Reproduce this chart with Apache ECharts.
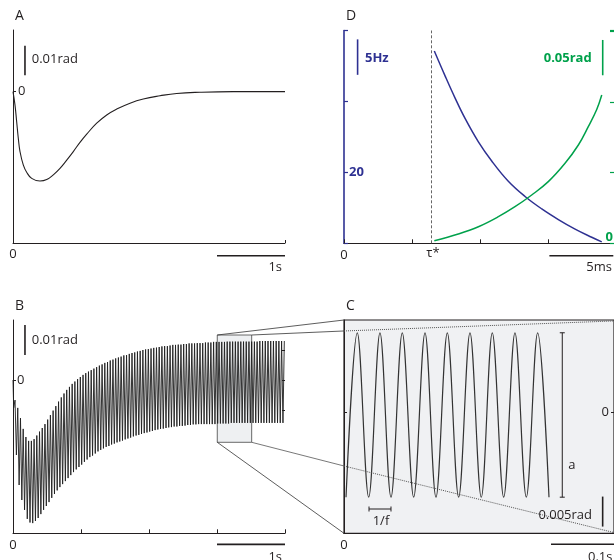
<!DOCTYPE html>
<html><head><meta charset="utf-8">
<script src="https://cdn.jsdelivr.net/npm/echarts@6/dist/echarts.min.js"></script>
<style>html,body{margin:0;padding:0;background:#fff}#c{width:614px;height:560px}</style>
</head><body><div id="c"></div>
<script>
// ---------- Panel A: mean angle (mrad) vs time (s) ----------
const aTimeS = [0, 0.029, 0.054, 0.078, 0.103, 0.151, 0.201, 0.275, 0.397, 0.496, 0.593, 0.691, 0.790, 0.887, 0.985, 1.084, 1.231, 1.378, 1.525, 1.721, 1.916, 2.162, 2.407, 2.75, 3.24, 4.0];
const aAngleMrad = [0, -4.5, -10.2, -15.8, -20.3, -24.8, -27.3, -29.4, -30.3, -29.8, -28.2, -26.0, -23.2, -20.3, -17.2, -14.4, -10.7, -7.9, -5.9, -3.9, -2.5, -1.4, -0.6, -0.2, 0, 0];

// ---------- Panel B: oscillating angle, one trough + one peak per cycle ----------
const bPeriodS = 0.04;
const bTroughMrad = [-9.3,-25.0,-35.0,-40.0,-43.3,-46.3,-47.5,-47.7,-47.0,-46.0,
 -44.7,-43.3,-42.0,-40.7,-39.3,-38.0,-36.8,-35.7,-34.7,-33.7,
 -32.7,-31.7,-30.7,-29.8,-29.0,-28.2,-27.3,-26.5,-25.7,-25.2,
 -24.5,-23.8,-23.3,-22.8,-22.3,-22.0,-21.5,-21.2,-20.8,-20.5,
 -20.2,-19.8,-19.5,-19.2,-18.8,-18.5,-18.3,-18.0,-17.7,-17.5,
 -17.2,-17.0,-16.7,-16.5,-16.3,-16.2,-16.0,-15.8,-15.7,-15.5,
 -15.5,-15.3,-15.3,-15.2,-15.0,-15.0,-14.8,-14.8,-14.7,-14.7,
 -14.7,-14.7,-14.7,-14.7,-14.7,-14.5,-14.5,-14.5,-14.5,-14.5,
 -14.3,-14.3,-14.3,-14.3,-14.3,-14.3,-14.3,-14.3,-14.3,-14.3,
 -14.3,-14.3,-14.3,-14.3,-14.3,-14.3,-14.3,-14.3,-14.3,-14.3];
const bPeakMrad = [-6.7,-9.3,-12.7,-16.3,-19.0,-20.3,-20.3,-19.7,-18.5,-17.2,
 -16.0,-14.7,-13.2,-11.7,-10.2,-8.7,-7.2,-5.8,-4.5,-3.3,
 -2.3,-1.3,-0.5,0.3,1.0,1.7,2.3,2.8,3.3,3.8,
 4.3,4.8,5.2,5.7,6.0,6.5,6.8,7.2,7.5,7.8,
 8.2,8.3,8.7,9.0,9.2,9.5,9.7,10.0,10.2,10.3,
 10.5,10.7,10.8,11.0,11.2,11.3,11.3,11.5,11.7,11.7,
 11.8,11.8,12.0,12.0,12.2,12.2,12.2,12.3,12.3,12.3,
 12.5,12.5,12.5,12.7,12.7,12.7,12.7,12.7,12.8,12.8,
 12.8,12.8,12.8,12.8,12.8,12.8,12.8,12.8,12.8,12.8,
 13.0,13.0,13.0,13.0,13.0,13.0,13.0,13.0,13.0,13.0];
const bZoomT = [3.004, 3.51];
const bZoomMrad = [15, -20.77];

// ---------- Panel C: zoomed oscillation extremes ----------
const cTimeS = [0.0032,0.0211,0.0392,0.0571,0.0746,0.0925,0.1106,0.1286,0.1460,0.1640,0.1820,0.2000,0.2179,0.2354,0.2535,0.2714,0.2894,0.3074,0.3254];
const cAngleMrad = [-14.2,13.2,-14.2,13.2,-14.2,13.2,-14.2,13.2,-14.2,13.2,-14.2,13.2,-14.2,13.2,-14.2,13.2,-14.2,13.2,-14.2];
const cEnvUpper = [[0, 13.5], [0.4286, 15.17]];
const cEnvLower = [[0, -9.0], [0.4286, -20.1]];

// ---------- Panel D: frequency (Hz) and amplitude (rad) vs time (ms) ----------
const dTauStarMs = 6.45;
const dBlueTimeMs = [6.64, 7.43, 8.16, 8.90, 9.88, 10.86, 12.08, 13.31, 14.54, 15.76, 16.99, 18.21, 18.95];
const dFreqHz = [37.1, 33.6, 30.5, 27.6, 24.3, 21.6, 18.75, 16.6, 14.85, 13.35, 12.0, 10.85, 10.2];
const dGreenTimeMs = [6.64, 8.40, 9.88, 11.35, 12.57, 13.80, 15.02, 16.25, 17.23, 17.96, 18.58, 18.95];
const dAmpRad = [0.0037, 0.0132, 0.0235, 0.0377, 0.0518, 0.0684, 0.0873, 0.1133, 0.1392, 0.1652, 0.1895, 0.2100];

// ---------- styling ----------
const FONT = '"Open Sans", "Noto Sans", "DejaVu Sans", sans-serif';
const INK = '#231f20';
const BLUE = '#2e3192';
const GREEN = '#00a14b';

const pairs = (xs, ys) => xs.map((x, i) => [x, ys[i]]);
const bData = [[0, 0]];
for (let k = 0; k < bPeakMrad.length; k++) {
  bData.push([+(bPeriodS * k + bPeriodS / 4).toFixed(4), bTroughMrad[k]]);
  bData.push([+(bPeriodS * k + 3 * bPeriodS / 4).toFixed(4), bPeakMrad[k]]);
}

const lbl = (o) => Object.assign({color: INK, fontSize: 13, fontFamily: FONT}, o);
function xAx(grid, min, max, extra) {
  return Object.assign({
    gridIndex: grid, type: 'value', min: min, max: max,
    axisLine: {onZero: false, lineStyle: {color: INK, width: 1}},
    axisTick: {inside: true, length: 4, lineStyle: {color: INK, width: 1}},
    axisLabel: lbl({customValues: [0], margin: 5}),
    splitLine: {show: false}
  }, extra || {});
}
function yAx(grid, min, max, extra) {
  return Object.assign({
    gridIndex: grid, type: 'value', min: min, max: max,
    axisLine: {onZero: false, lineStyle: {color: INK, width: 1}},
    axisTick: {inside: true, length: 3, customValues: [0], lineStyle: {color: INK, width: 1}},
    axisLabel: lbl({inside: true, customValues: [0], margin: 5}),
    splitLine: {show: false}
  }, extra || {});
}
const hiddenLine = {show: false, onZero: false};

const chart = echarts.init(document.getElementById('c'), null, {renderer: 'canvas', width: 614, height: 560});
const titleStyle = {fontSize: 14, fontWeight: 'normal', fontFamily: FONT, color: INK};
chart.setOption({
  animation: false,
  backgroundColor: '#ffffff',
  title: [
    {text: 'A', left: 15, top: 9, padding: 0, textStyle: titleStyle},
    {text: 'D', left: 346, top: 9, padding: 0, textStyle: titleStyle},
    {text: 'B', left: 15, top: 299, padding: 0, textStyle: titleStyle},
    {text: 'C', left: 346, top: 299, padding: 0, textStyle: titleStyle}
  ],
  grid: [
    {left: 13, top: 30, width: 272, height: 213, outerBoundsMode: 'none'},
    {left: 344, top: 30.5, width: 270, height: 212.8, outerBoundsMode: 'none'},
    {left: 13, top: 320, width: 272, height: 213.3, outerBoundsMode: 'none'},
    {left: 344, top: 320, width: 270, height: 213.3, outerBoundsMode: 'none', show: true,
     backgroundColor: '#f0f1f3', borderColor: INK, borderWidth: 1.2}
  ],
  xAxis: [
    xAx(0, 0, 4, {axisTick: {inside: true, length: 3, customValues: [4], lineStyle: {color: INK}}}),
    xAx(1, 0, 19.85, {interval: 5}),
    xAx(2, 0, 4, {interval: 1}),
    xAx(3, 0, 0.4286, {axisTick: {show: false}})
  ],
  yAxis: [
    yAx(0, -51.3, 20.9),
    yAx(1, 10, 40, {interval: 10, position: 'left',
      axisLine: {onZero: false, lineStyle: {color: BLUE, width: 1.6}},
      axisTick: {inside: true, length: 4, lineStyle: {color: BLUE, width: 1.2}},
      axisLabel: lbl({inside: true, customValues: [20], margin: 5, color: BLUE, fontWeight: 'bold'})}),
    yAx(1, 0, 0.3014, {interval: 0.1, position: 'right',
      axisLine: hiddenLine,
      axisTick: {inside: true, length: 4, lineStyle: {color: GREEN, width: 1.2}},
      axisLabel: lbl({inside: true, customValues: [0], margin: 1, color: GREEN, fontWeight: 'bold', verticalAlign: 'bottom'})}),
    yAx(2, -51.1, 20, {axisLabel: lbl({inside: true, customValues: [0], margin: 4})}),
    yAx(2, -51.1, 20, {position: 'right', axisLine: hiddenLine,
      axisTick: {inside: true, length: 3, customValues: [-10, 0, 10], lineStyle: {color: INK}},
      axisLabel: {show: false}}),
    yAx(3, -20.22, 15.33, {axisLabel: {show: false}}),
    yAx(3, -20.22, 15.33, {position: 'right', axisLine: hiddenLine,
      axisTick: {inside: true, length: 3, customValues: [0], lineStyle: {color: INK}},
      axisLabel: lbl({inside: true, customValues: [0], margin: 5})})
  ],
  series: [
    {type: 'line', xAxisIndex: 0, yAxisIndex: 0, data: pairs(aTimeS, aAngleMrad), smooth: 0.45,
     showSymbol: false, silent: true, lineStyle: {color: INK, width: 1.1}},
    {type: 'line', xAxisIndex: 1, yAxisIndex: 1, data: pairs(dBlueTimeMs, dFreqHz), smooth: 0.4,
     showSymbol: false, silent: true, lineStyle: {color: BLUE, width: 1.5},
     markLine: {silent: true, symbol: 'none', label: {show: false},
       lineStyle: {type: [3, 2], color: '#666', width: 1}, data: [{xAxis: dTauStarMs}]}},
    {type: 'line', xAxisIndex: 1, yAxisIndex: 2, data: pairs(dGreenTimeMs, dAmpRad), smooth: 0.4,
     showSymbol: false, silent: true, lineStyle: {color: GREEN, width: 1.5}},
    {type: 'line', xAxisIndex: 2, yAxisIndex: 3, data: bData, smooth: false,
     showSymbol: false, silent: true, lineStyle: {color: '#1e1e1e', width: 0.9},
     markArea: {silent: true, itemStyle: {color: '#eef0f2', borderColor: '#444', borderWidth: 0.8},
       data: [[{coord: [bZoomT[0], bZoomMrad[0]]}, {coord: [bZoomT[1], bZoomMrad[1]]}]]}},
    {type: 'line', xAxisIndex: 3, yAxisIndex: 5, data: pairs(cTimeS, cAngleMrad), smooth: 0.36,
     showSymbol: false, silent: true, lineStyle: {color: '#333', width: 1.2},
     markLine: {silent: true, symbol: 'none', label: {show: false},
       lineStyle: {type: 'dotted', color: '#555', width: 1},
       data: [[{coord: cEnvUpper[0]}, {coord: cEnvUpper[1]}], [{coord: cEnvLower[0]}, {coord: cEnvLower[1]}]]}}
  ]
});

// ---------- annotations (scale bars, labels, zoom connectors) in data units ----------
const AX_A = [0, 0], AX_DB = [1, 1], AX_DG = [1, 2], AX_B = [2, 3], AX_C = [3, 5];
const px = (ax, p) => chart.convertToPixel({xAxisIndex: ax[0], yAxisIndex: ax[1]}, p);
const g = [];
function seg(p0, p1, color, w, dash) {
  g.push({type: 'line', z: 50, silent: true, shape: {x1: p0[0], y1: p0[1], x2: p1[0], y2: p1[1]},
    style: {stroke: color, lineWidth: w, lineDash: dash || null}});
}
function bar(ax, a, b, color, w, cap) {
  const p0 = px(ax, a), p1 = px(ax, b);
  seg(p0, p1, color, w);
  if (cap) {
    const vertical = Math.abs(p1[0] - p0[0]) < Math.abs(p1[1] - p0[1]);
    [p0, p1].forEach(p => vertical
      ? seg([p[0] - cap, p[1]], [p[0] + cap, p[1]], color, 1)
      : seg([p[0], p[1] - cap], [p[0], p[1] + cap], color, 1));
  }
}
function text(ax, p, s, opt) {
  const q = px(ax, p);
  g.push({type: 'text', z: 60, silent: true, x: q[0], y: q[1],
    style: Object.assign({text: s, fill: INK, fontSize: 13, fontFamily: FONT, align: 'left', verticalAlign: 'middle'}, opt || {})});
}
// Panel A
bar(AX_A, [3, -55.6], [4, -55.6], INK, 1.6);
text(AX_A, [3.956, -59.4], '1s', {align: 'right'});
bar(AX_A, [0.176, 15.6], [0.176, 5.6], INK, 1.6);
text(AX_A, [0.275, 11.1], '0.01rad');
// Panel B
bar(AX_B, [3, -54.8], [4, -54.8], INK, 1.6);
text(AX_B, [3.956, -59], '1s', {align: 'right'});
bar(AX_B, [0.176, 18.3], [0.176, 8.3], INK, 1.6);
text(AX_B, [0.275, 13.3], '0.01rad');
// Panel C
bar(AX_C, [0.3286, -22.05], [0.4286, -22.05], INK, 1.6);
text(AX_C, [0.4262, -24.2], '0.1s', {align: 'right'});
bar(AX_C, [0.3465, 13.2], [0.3465, -14.2], INK, 1, 2.5);
text(AX_C, [0.3560, -8.95], 'a');
bar(AX_C, [0.0397, -16.17], [0.0746, -16.17], INK, 1, 2.5);
text(AX_C, [0.0587, -18.3], '1/f', {align: 'center'});
bar(AX_C, [0.4106, -14.1], [0.4106, -19.1], INK, 1.6);
text(AX_C, [0.3937, -17.3], '0.005rad', {align: 'right'});
// connectors from B's box to C
const cTop = 15.33, cBottom = -20.22;
seg(px(AX_B, [bZoomT[0], bZoomMrad[0]]), px(AX_C, [0, cTop]), '#333', 0.8);
seg(px(AX_B, [bZoomT[1], bZoomMrad[0]]), px(AX_C, cEnvUpper[0]), '#333', 0.8);
seg(px(AX_B, [bZoomT[0], bZoomMrad[1]]), px(AX_C, [0, cBottom]), '#333', 0.8);
seg(px(AX_B, [bZoomT[1], bZoomMrad[1]]), px(AX_C, cEnvLower[0]), '#555', 0.8);
// Panel D
text(AX_DB, [6.54, 8.63], 'τ*', {align: 'center'});
bar(AX_DB, [15.1, 8.25], [19.8, 8.25], INK, 1.6);
text(AX_DB, [19.7, 6.65], '5ms', {align: 'right'});
bar(AX_DB, [1.0, 38.75], [1.0, 33.75], BLUE, 1.6);
text(AX_DB, [1.54, 36.1], '5Hz', {fill: BLUE, fontWeight: 'bold'});
bar(AX_DG, [19.02, 0.288], [19.02, 0.238], GREEN, 1.6);
text(AX_DG, [18.21, 0.262], '0.05rad', {fill: GREEN, fontWeight: 'bold', align: 'right'});

chart.setOption({graphic: g});
</script></body></html>
